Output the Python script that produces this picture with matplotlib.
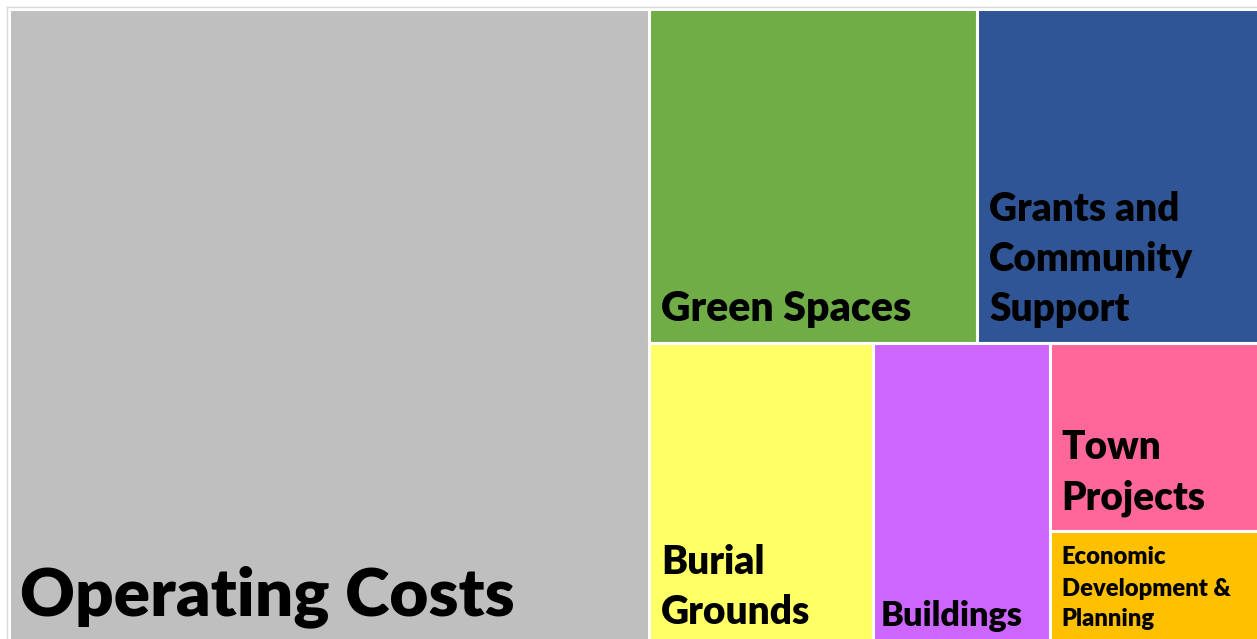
import matplotlib
matplotlib.use("Agg")
import matplotlib.pyplot as plt
from matplotlib.patches import Rectangle
from matplotlib.lines import Line2D

# ---- data ----
categories = ["Operating Costs", "Green Spaces", "Grants and\nCommunity\nSupport",
              "Burial\nGrounds", "Buildings", "Town\nProjects",
              "Economic\nDevelopment &\nPlanning"]
values = [512, 138, 119, 85, 67, 50, 30]
colors = ["#BFBFBF", "#70AD47", "#2F5597", "#FFFF66", "#CC66FF", "#FF6699", "#FFC000"]

# ---- label styling ----
font_sizes = [48.6, 29.5, 27.9, 28.1, 24.7, 27.8, 17.1]
leads = [70, 50, 50, 50, 50, 50, 31]
pad_bottom = [29, 22, 22, 21, 19, 22, 18]
pad_left = [12, 12, 12, 12, 8, 12, 12]

FW, FH = 1257, 639
fig = plt.figure(figsize=(FW / 100, FH / 100), dpi=100)
fig.patch.set_facecolor("white")

x0, y0 = 8.5, 8.5
W, H = 1259 + 1.5 - x0, 643 + 1.5 - y0
ax = fig.add_axes([x0 / FW, (FH - y0 - H) / FH, W / FW, H / FH])
ax.set_xlim(0, W)
ax.set_ylim(H, 0)
ax.axis("off")


def worst(row, w):
    s = sum(row)
    return max(w * w * max(row) / (s * s), (s * s) / (w * w * min(row)))


def squarify(sizes, x, y, dx, dy):
    rects = []
    sizes = list(sizes)
    while sizes:
        short = min(dx, dy)
        row = [sizes[0]]
        i = 1
        while i < len(sizes) and worst(row + [sizes[i]], short) <= worst(row, short):
            row.append(sizes[i])
            i += 1
        s = sum(row)
        if dx >= dy:
            w = s / dy
            yy = y
            for r in row:
                h = r / w
                rects.append((x, yy, w, h))
                yy += h
            x += w
            dx -= w
        else:
            h = s / dx
            xx = x
            for r in row:
                w = r / h
                rects.append((xx, y, w, h))
                xx += w
            y += h
            dy -= h
        sizes = sizes[i:]
    return rects


total = sum(values)
areas = [v / total * W * H for v in values]
rects = squarify(areas, 0, 0, W, H)

for i, ((rx, ry, rw, rh), lab, col) in enumerate(zip(rects, categories, colors)):
    ax.add_patch(Rectangle((rx, ry), rw, rh, facecolor=col, edgecolor="white",
                           linewidth=2.2))
    lines = lab.split("\n")
    for k, line in enumerate(reversed(lines)):
        ax.annotate(line, xy=(rx, ry + rh),
                    xytext=(pad_left[i], pad_bottom[i] + k * leads[i]),
                    textcoords="offset pixels", ha="left", va="baseline",
                    fontsize=font_sizes[i], fontweight="heavy", family="Lato",
                    color="black")

fig.add_artist(Line2D([7 / FW, 1], [1 - 7 / FH, 1 - 7 / FH], color="#D9D9D9", lw=1,
                      transform=fig.transFigure))
fig.add_artist(Line2D([7 / FW, 7 / FW], [0, 1 - 7 / FH], color="#D9D9D9", lw=1,
                      transform=fig.transFigure))

fig.savefig("out.png", dpi=100)
